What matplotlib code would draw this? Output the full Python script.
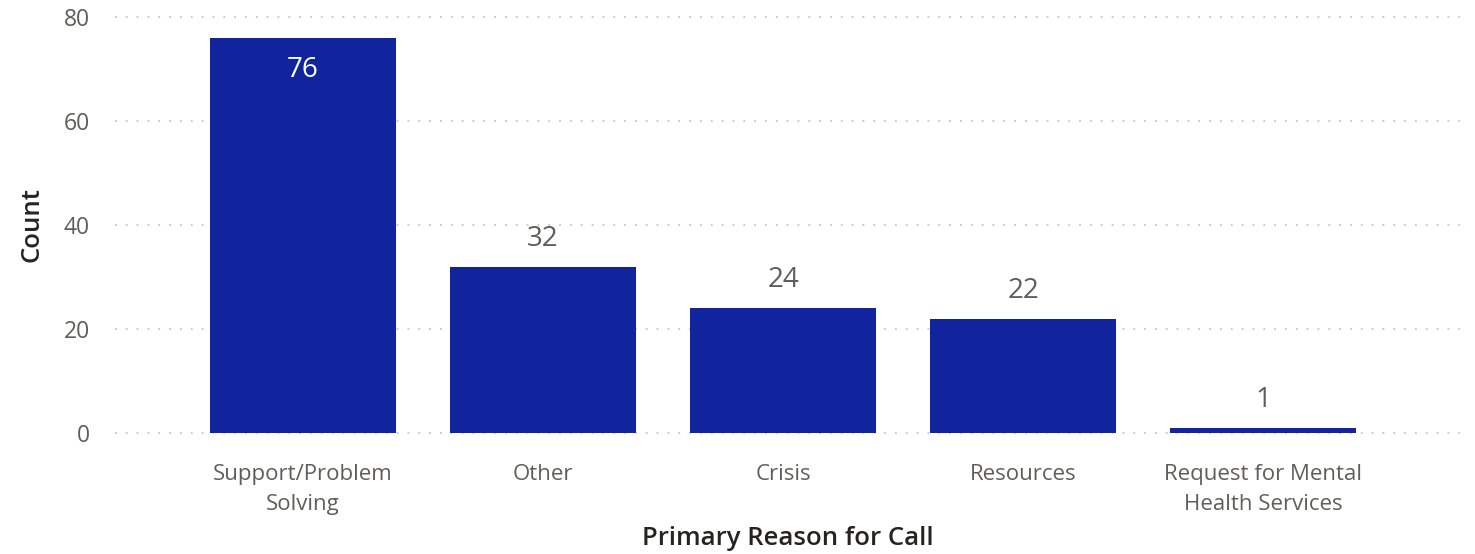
import matplotlib
matplotlib.use("Agg")
import matplotlib.pyplot as plt

categories = ["Support/Problem\nSolving", "Other", "Crisis", "Resources",
              "Request for Mental\nHealth Services"]
counts = [76, 32, 24, 22, 1]
yticks = [0, 20, 40, 60, 80]

BAR = "#12239E"
TICK = "#605E5C"
TITLE = "#252423"
plt.rcParams["font.family"] = ["Open Sans", "DejaVu Sans"]

fig = plt.figure(figsize=(14.75, 5.54), dpi=100)
ax = fig.add_axes([0.078, 0.2184, 0.912, 0.7509])
x = range(len(categories))
ax.bar(x, counts, width=0.775, color=BAR, zorder=2)
ax.set_xlim(-0.783, 4.82)
ax.set_ylim(0, 80)
ax.set_yticks(yticks)
ax.set_xticks(list(x))
ax.set_xticklabels(categories, fontsize=16, color=TICK, linespacing=1.6)
ax.tick_params(axis="y", labelsize=16.5, labelcolor=TICK, length=0, pad=18)
ax.tick_params(axis="x", length=0, pad=22)
for s in ax.spines.values():
    s.set_visible(False)
ax.grid(axis="y", color="#C8C6C4", linestyle=(0, (1, 5)), linewidth=1.3, zorder=0)
for l in ax.get_ygridlines():
    l.set_clip_on(False)

for i, v in enumerate(counts):
    if v > 60:
        ax.annotate(str(v), (i, v), xytext=(0, -23), textcoords="offset points",
                    ha="center", va="center", fontsize=20, color="white")
    else:
        ax.annotate(str(v), (i, v), xytext=(0, 20), textcoords="offset points",
                    ha="center", va="center", fontsize=20, color=TICK)

ax.set_ylabel("Count", fontsize=18.5, color=TITLE, fontweight="semibold", labelpad=14)
ax.set_xlabel("Primary Reason for Call", fontsize=18.5, color=TITLE,
              fontweight="semibold", labelpad=8)

fig.savefig("out.png", dpi=100)
